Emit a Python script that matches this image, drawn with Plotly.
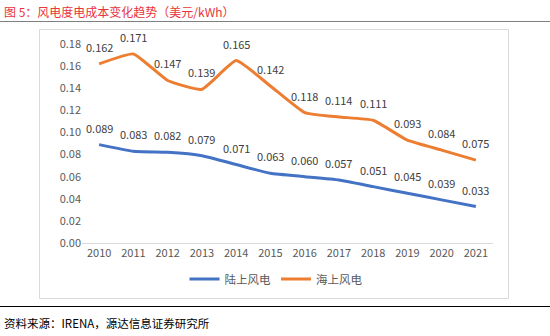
import plotly.graph_objects as go

years = ["2010", "2011", "2012", "2013", "2014", "2015", "2016", "2017", "2018", "2019", "2020", "2021"]
onshore = [0.089, 0.083, 0.082, 0.079, 0.071, 0.063, 0.060, 0.057, 0.051, 0.045, 0.039, 0.033]
offshore = [0.162, 0.171, 0.147, 0.139, 0.165, 0.142, 0.118, 0.114, 0.111, 0.093, 0.084, 0.075]
y_ticks = [0.00, 0.02, 0.04, 0.06, 0.08, 0.10, 0.12, 0.14, 0.16, 0.18]

W, H = 550, 336
L, R, T, B = 82, 493, 44, 243
FONT = "Noto Sans CJK SC"

def px(x):
    return (x - L) / (R - L)

def py(y):
    return (B - y) / (B - T)

fig = go.Figure()
fig.add_trace(go.Scatter(x=years, y=onshore, name="陆上风电", mode="lines",
                         line=dict(color="#4472C4", width=3, shape="spline", smoothing=0.4)))
fig.add_trace(go.Scatter(x=years, y=offshore, name="海上风电", mode="lines",
                         line=dict(color="#ED7D31", width=3, shape="spline", smoothing=0.4)))

annotations = []
for series in (onshore, offshore):
    for i, yv in enumerate(series):
        annotations.append(dict(x=i, y=yv, xref="x", yref="y", text=f"{yv:.3f}",
                                showarrow=False, yshift=17,
                                font=dict(family=FONT, size=11, color="#404040")))

annotations.append(dict(x=px(2), y=py(11), xref="paper", yref="paper", xanchor="left", yanchor="middle",
                        text="图 5：风电度电成本变化趋势（美元/kWh）", showarrow=False,
                        font=dict(family=FONT, size=12, color="#E8343A")))
annotations.append(dict(x=px(2), y=py(323), xref="paper", yref="paper", xanchor="left", yanchor="middle",
                        text="资料来源：IRENA，源达信息证券研究所", showarrow=False,
                        font=dict(family=FONT, size=11.5, color="#000000")))

shapes = [
    dict(type="line", xref="paper", yref="paper", x0=px(0), x1=px(550), y0=py(21.5), y1=py(21.5),
         line=dict(color="#7F7F7F", width=1)),
    dict(type="rect", xref="paper", yref="paper", x0=px(39.5), x1=px(508.5), y0=py(29.5), y1=py(298.5),
         line=dict(color="#D9D9D9", width=1)),
    dict(type="line", xref="paper", yref="paper", x0=px(0), x1=px(550), y0=py(306.5), y1=py(306.5),
         line=dict(color="#000000", width=1)),
]

fig.update_layout(
    width=W, height=H,
    margin=dict(l=L, r=W - R, t=T, b=H - B),
    paper_bgcolor="white", plot_bgcolor="white",
    font=dict(family=FONT, size=11, color="#595959"),
    showlegend=True,
    legend=dict(orientation="h", x=px(276), y=py(279), xanchor="center", yanchor="middle",
                font=dict(family=FONT, size=11.5, color="#595959"), itemwidth=30, tracegroupgap=0),
    xaxis=dict(type="category", range=[-0.5, 11.5], showgrid=False, zeroline=False,
               showline=True, linecolor="#D9D9D9", linewidth=1, ticks="",
               tickfont=dict(family=FONT, size=11, color="#595959")),
    yaxis=dict(range=[0, 0.18], tickvals=y_ticks, ticktext=[f"{v:.2f}" for v in y_ticks],
               showgrid=False, zeroline=False, showline=False, ticks="",
               tickfont=dict(family=FONT, size=11, color="#595959")),
    annotations=annotations,
    shapes=shapes,
)

fig.write_html("out.html")
